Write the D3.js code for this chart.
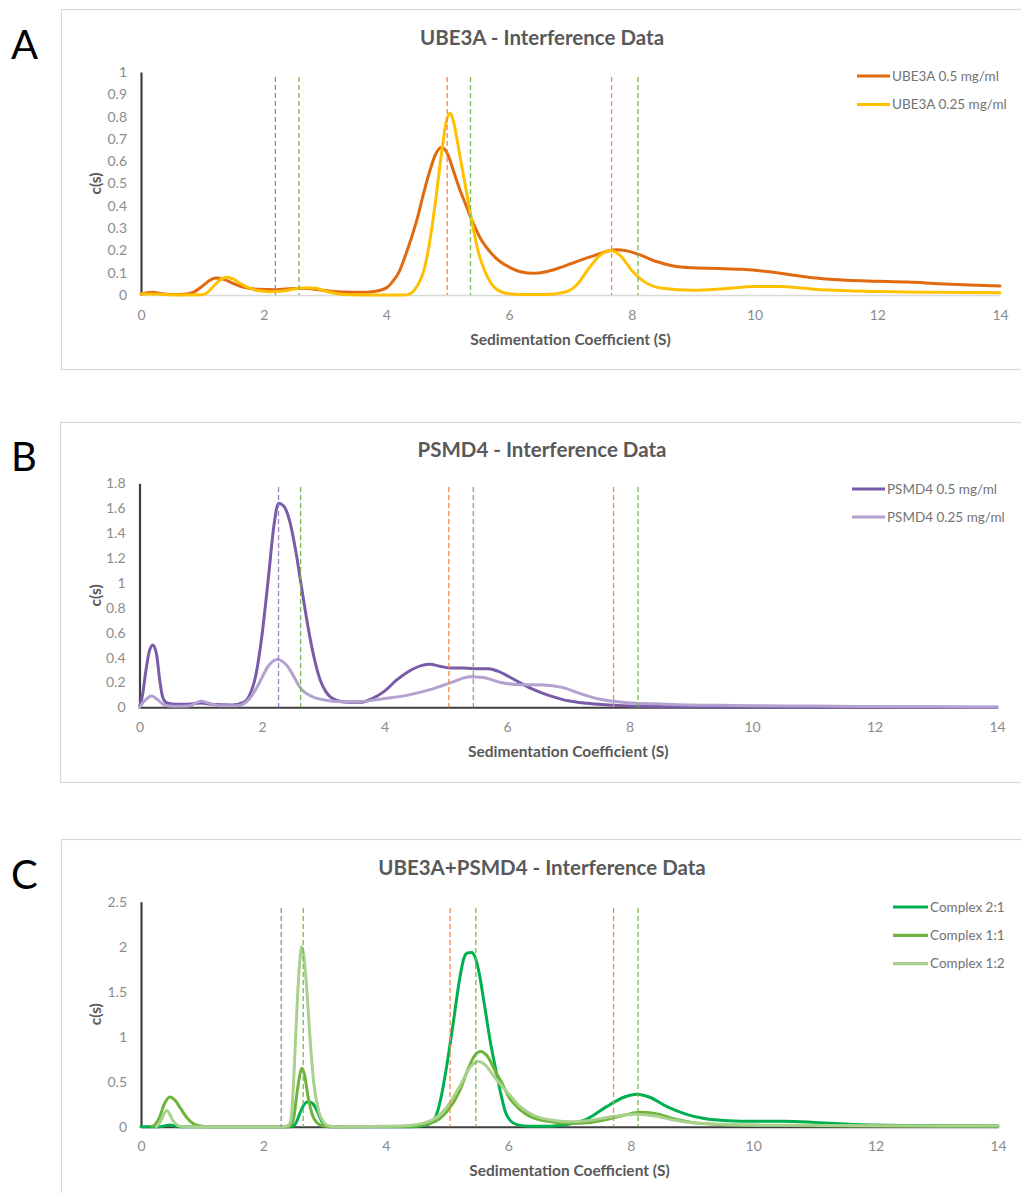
<!DOCTYPE html>
<html>
<head>
<meta charset="utf-8">
<script src="https://cdn.jsdelivr.net/npm/d3@7"></script>
<style>
  html, body { margin: 0; padding: 0; background: #fff; }
  svg { display: block; font-family: Lato, "Open Sans", sans-serif; }
</style>
</head>
<body>
<svg id="fig" width="1021" height="1193"></svg>
<script>
// ---------- data: c(s) distributions, sedimentation coefficient in S ----------
const sTicks = [0, 2, 4, 6, 8, 10, 12, 14];
const yTicksA = [0, 0.1, 0.2, 0.3, 0.4, 0.5, 0.6, 0.7, 0.8, 0.9, 1];
const yTicksB = [0, 0.2, 0.4, 0.6, 0.8, 1, 1.2, 1.4, 1.6, 1.8];
const yTicksC = [0, 0.5, 1, 1.5, 2, 2.5];

const titles = ["UBE3A - Interference Data", "PSMD4 - Interference Data", "UBE3A+PSMD4 - Interference Data"];
const panelLetters = ["A", "B", "C"];
const xAxisTitle = "Sedimentation Coefficient (S)";
const yAxisTitle = "c(s)";

const ube3a05 = [[0,0.005],[0.1,0.01],[0.2,0.012],[0.3,0.008],[0.45,0.002],[0.65,0.002],[0.85,0.012],[1.0,0.04],[1.1,0.062],[1.22,0.076],[1.35,0.07],[1.5,0.052],[1.7,0.033],[1.9,0.026],[2.2,0.024],[2.5,0.029],[2.7,0.029],[3.0,0.02],[3.3,0.013],[3.6,0.012],[3.8,0.016],[4.0,0.032],[4.1,0.06],[4.2,0.1],[4.3,0.17],[4.4,0.25],[4.5,0.34],[4.6,0.45],[4.7,0.55],[4.8,0.63],[4.9,0.662],[5.0,0.63],[5.1,0.55],[5.2,0.47],[5.3,0.4],[5.36,0.357],[5.45,0.3],[5.55,0.245],[5.7,0.19],[5.85,0.15],[6.0,0.125],[6.2,0.103],[6.4,0.097],[6.6,0.104],[6.8,0.12],[7.0,0.14],[7.2,0.16],[7.4,0.178],[7.6,0.196],[7.75,0.203],[7.9,0.199],[8.1,0.183],[8.4,0.15],[8.7,0.129],[9.0,0.122],[9.4,0.119],[9.8,0.115],[10.2,0.105],[10.6,0.09],[11.0,0.076],[11.5,0.066],[12.0,0.062],[12.5,0.058],[13.0,0.051],[13.5,0.045],[14.0,0.04]];
const ube3a025 = [[0,0.005],[0.2,0.005],[0.4,0.002],[0.6,0],[1.0,0.001],[1.1,0.015],[1.2,0.045],[1.3,0.07],[1.4,0.08],[1.5,0.072],[1.6,0.055],[1.75,0.033],[1.9,0.02],[2.1,0.015],[2.3,0.017],[2.5,0.027],[2.7,0.033],[2.85,0.03],[3.0,0.018],[3.2,0.006],[3.4,0.001],[4.3,0],[4.4,0.008],[4.5,0.04],[4.6,0.1],[4.7,0.23],[4.8,0.42],[4.9,0.64],[4.97,0.77],[5.04,0.816],[5.1,0.77],[5.2,0.62],[5.3,0.47],[5.4,0.32],[5.5,0.19],[5.6,0.11],[5.7,0.055],[5.8,0.025],[6.0,0.006],[6.3,0.002],[6.6,0.002],[6.9,0.012],[7.1,0.045],[7.3,0.12],[7.5,0.183],[7.65,0.2],[7.8,0.18],[8.0,0.11],[8.2,0.06],[8.5,0.03],[9.0,0.021],[9.5,0.028],[10.0,0.038],[10.4,0.038],[10.8,0.03],[11.2,0.022],[12,0.016],[13,0.012],[14,0.01]];

const psmd405 = [[0,0],[0.05,0.1],[0.1,0.28],[0.16,0.45],[0.22,0.5],[0.28,0.42],[0.33,0.22],[0.38,0.08],[0.45,0.035],[0.6,0.025],[0.8,0.025],[1.0,0.035],[1.2,0.022],[1.5,0.018],[1.7,0.04],[1.8,0.1],[1.9,0.26],[2.0,0.58],[2.1,1.02],[2.2,1.48],[2.27,1.64],[2.35,1.62],[2.45,1.5],[2.55,1.26],[2.65,0.95],[2.75,0.65],[2.85,0.4],[2.95,0.22],[3.05,0.12],[3.2,0.06],[3.4,0.04],[3.6,0.04],[3.8,0.07],[4.0,0.13],[4.2,0.22],[4.4,0.29],[4.6,0.335],[4.75,0.345],[4.9,0.33],[5.1,0.315],[5.3,0.315],[5.5,0.31],[5.7,0.31],[5.85,0.29],[6.0,0.255],[6.2,0.2],[6.4,0.15],[6.6,0.11],[6.8,0.078],[7.0,0.052],[7.3,0.032],[7.6,0.02],[8.0,0.01],[8.5,0.006],[9.0,0.004],[10,0.002],[14,0.001]];
const psmd4025 = [[0,0],[0.08,0.05],[0.2,0.09],[0.3,0.06],[0.4,0.02],[0.55,0.008],[0.8,0.01],[1.0,0.048],[1.15,0.03],[1.3,0.012],[1.6,0.012],[1.8,0.07],[1.95,0.19],[2.1,0.33],[2.25,0.385],[2.4,0.34],[2.55,0.22],[2.62,0.16],[2.7,0.12],[2.85,0.08],[3.0,0.06],[3.3,0.045],[3.6,0.046],[4.0,0.07],[4.4,0.1],[4.8,0.15],[5.1,0.2],[5.4,0.245],[5.6,0.24],[5.9,0.2],[6.2,0.182],[6.6,0.18],[6.9,0.16],[7.2,0.11],[7.5,0.067],[7.8,0.045],[8.1,0.032],[8.5,0.027],[9,0.019],[9.5,0.016],[10,0.013],[11,0.01],[12,0.006],[13,0.004],[14,0.003]];

const complex21 = [[0,0],[0.3,0],[0.4,0.012],[0.47,0.018],[0.55,0.01],[0.65,0],[2.46,0],[2.53,0.04],[2.59,0.14],[2.65,0.23],[2.73,0.278],[2.8,0.26],[2.86,0.2],[2.9,0.14],[2.96,0.05],[3.02,0.01],[3.1,0],[4.4,0],[4.6,0.01],[4.75,0.05],[4.82,0.12],[4.9,0.32],[5.0,0.7],[5.1,1.15],[5.2,1.62],[5.27,1.86],[5.33,1.93],[5.4,1.935],[5.46,1.88],[5.52,1.72],[5.6,1.4],[5.7,0.97],[5.8,0.62],[5.88,0.36],[5.95,0.17],[6.03,0.07],[6.15,0.02],[6.35,0.005],[6.7,0.006],[7.0,0.03],[7.3,0.09],[7.6,0.22],[7.9,0.33],[8.1,0.36],[8.3,0.33],[8.6,0.22],[8.9,0.14],[9.2,0.09],[9.6,0.066],[10,0.06],[10.5,0.06],[11,0.048],[11.5,0.03],[12,0.018],[13,0.011],[14,0.007]];
const complex11 = [[0.18,0],[0.24,0.03],[0.3,0.1],[0.38,0.25],[0.47,0.33],[0.56,0.29],[0.65,0.2],[0.75,0.1],[0.85,0.035],[0.95,0.01],[1.1,0],[2.4,0],[2.45,0.02],[2.5,0.12],[2.54,0.33],[2.58,0.52],[2.625,0.65],[2.67,0.58],[2.73,0.33],[2.8,0.13],[2.88,0.04],[2.96,0.01],[3.1,0],[4.4,0.005],[4.6,0.02],[4.8,0.055],[5.0,0.17],[5.2,0.39],[5.35,0.65],[5.45,0.79],[5.55,0.835],[5.65,0.79],[5.8,0.6],[5.9,0.48],[6.0,0.34],[6.2,0.185],[6.4,0.1],[6.7,0.055],[7.0,0.037],[7.3,0.045],[7.6,0.08],[7.9,0.13],[8.15,0.16],[8.4,0.148],[8.7,0.09],[9.0,0.048],[9.5,0.022],[10,0.015],[11,0.011],[12,0.008],[14,0.007]];
const complex12 = [[0.25,0],[0.32,0.06],[0.42,0.18],[0.52,0.07],[0.6,0.015],[0.7,0],[2.3,0],[2.4,0.01],[2.45,0.08],[2.5,0.6],[2.55,1.35],[2.59,1.8],[2.625,2.0],[2.66,1.9],[2.7,1.6],[2.76,1.0],[2.82,0.5],[2.9,0.18],[2.98,0.05],[3.06,0.01],[3.2,0],[4.2,0.005],[4.6,0.037],[4.8,0.09],[5.0,0.22],[5.2,0.44],[5.4,0.68],[5.52,0.725],[5.6,0.7],[5.8,0.53],[6.0,0.37],[6.2,0.22],[6.4,0.13],[6.7,0.074],[7.0,0.055],[7.3,0.067],[7.6,0.1],[7.9,0.13],[8.1,0.137],[8.4,0.12],[8.7,0.074],[9.0,0.044],[9.5,0.026],[10,0.018],[11,0.015],[12,0.011],[13,0.008],[14,0.007]];

// reference s-values (monomer / complex peaks) shown as dashed markers
const markerKinds = ["psmd4", "complex", "ube3a", "complex", "ube3a", "complex"];
const markersA = [2.19, 2.575, 4.99, 5.37, 7.67, 8.10];
const markersB = [2.27, 2.63, 5.05, 5.45, 7.74, 8.14];
const markersC = [2.29, 2.65, 5.05, 5.47, 7.72, 8.12];

// ---------- styles ----------
const markerColor = { psmd4: "#9580c8", complex: "#78b84e", ube3a: "#f5894a" };
const font = 'Lato, "Open Sans", sans-serif';
const tickSize = 14;
const axisTitleSize = 15.5;

const panels = [
  {
    letter: panelLetters[0], letterY: 59, title: titles[0], titleY: 44.5,
    frame: { x: 61, y: 9, h: 360 },
    plot: { left: 141, right: 1000, top: 72, bottom: 295 },
    yMax: 1, yTicks: yTicksA, markers: markersA, markerTop: 77,
    baseColor: "#d9d9d9", baseWidth: 1.5,
    series: [
      { name: "UBE3A 0.5 mg/ml", data: ube3a05, color: "#e1690f" },
      { name: "UBE3A 0.25 mg/ml", data: ube3a025, color: "#ffc000" }
    ],
    legend: { x1: 857, x2: 890, y0: 76, dy: 28.5 }
  },
  {
    letter: panelLetters[1], letterY: 471, title: titles[1], titleY: 457,
    frame: { x: 60, y: 422, h: 360 },
    plot: { left: 139.5, right: 997, top: 483.3, bottom: 707.3 },
    yMax: 1.8, yTicks: yTicksB, markers: markersB, markerTop: 487,
    baseColor: "#3f3f3f", baseWidth: 2,
    series: [
      { name: "PSMD4 0.5 mg/ml", data: psmd405, color: "#7a5ba8" },
      { name: "PSMD4 0.25 mg/ml", data: psmd4025, color: "#b3a1d0" }
    ],
    legend: { x1: 852, x2: 885, y0: 489, dy: 28 }
  },
  {
    letter: panelLetters[2], letterY: 889, title: titles[2], titleY: 875,
    frame: { x: 61, y: 839, h: 400 },
    plot: { left: 141, right: 998, top: 901.7, bottom: 1126.7 },
    yMax: 2.5, yTicks: yTicksC, markers: markersC, markerTop: 908,
    baseColor: "#3f3f3f", baseWidth: 2,
    series: [
      { name: "Complex 2:1", data: complex21, color: "#00b050" },
      { name: "Complex 1:1", data: complex11, color: "#6fb43a" },
      { name: "Complex 1:2", data: complex12, color: "#a9d18e" }
    ],
    legend: { x1: 893, x2: 928, y0: 907, dy: 28.3 }
  }
];

const svg = d3.select("#fig");

function drawPanel(p) {
  const g = svg.append("g");

  // chart frame
  g.append("rect")
    .attr("x", p.frame.x + 0.5).attr("y", p.frame.y + 0.5)
    .attr("width", 1100).attr("height", p.frame.h)
    .attr("fill", "#fff").attr("stroke", "#d9d9d9").attr("stroke-width", 1.2);

  // panel letter
  svg.append("text")
    .attr("x", 11).attr("y", p.letterY)
    .attr("font-family", font).attr("font-size", 40).attr("fill", "#000")
    .text(p.letter);

  const x = d3.scaleLinear().domain([0, 14]).range([p.plot.left, p.plot.right]);
  const y = d3.scaleLinear().domain([0, p.yMax]).range([p.plot.bottom, p.plot.top]);

  // title
  g.append("text")
    .attr("x", 542).attr("y", p.titleY).attr("text-anchor", "middle")
    .attr("font-family", font).attr("font-size", 20.5).attr("font-weight", 700)
    .attr("fill", "#595959").text(p.title);

  // x axis (baseline + labels)
  const xAxis = g.append("g")
    .attr("transform", `translate(0,${p.plot.bottom})`)
    .call(d3.axisBottom(x).tickValues(sTicks).tickSize(0).tickSizeOuter(0).tickFormat(d3.format("d")));
  xAxis.select(".domain").attr("stroke", p.baseColor).attr("stroke-width", p.baseWidth);
  xAxis.selectAll("text")
    .attr("y", 24.5).attr("dy", null)
    .attr("font-family", font).attr("font-size", tickSize).attr("fill", "#8c8c8c");

  // y axis (vertical rule + labels)
  const yAxis = g.append("g")
    .attr("transform", `translate(${p.plot.left},0)`)
    .call(d3.axisLeft(y).tickValues(p.yTicks).tickSize(0).tickSizeOuter(0).tickPadding(14)
      .tickFormat(d3.format("~g")));
  yAxis.select(".domain").attr("stroke", "#404040").attr("stroke-width", 2.2);
  yAxis.selectAll("text")
    .attr("font-family", font).attr("font-size", tickSize).attr("fill", "#8c8c8c");

  // axis titles
  g.append("text")
    .attr("x", (p.plot.left + p.plot.right) / 2).attr("y", p.plot.bottom + 49.5)
    .attr("text-anchor", "middle")
    .attr("font-family", font).attr("font-size", axisTitleSize).attr("font-weight", 700)
    .attr("fill", "#595959").text(xAxisTitle);
  g.append("text")
    .attr("transform", `translate(${101},${(p.plot.top + p.plot.bottom) / 2}) rotate(-90)`)
    .attr("text-anchor", "middle")
    .attr("font-family", font).attr("font-size", axisTitleSize).attr("font-weight", 700)
    .attr("fill", "#595959").text(yAxisTitle);

  // distribution curves
  const line = d3.line()
    .x(d => x(d[0])).y(d => y(d[1]))
    .curve(d3.curveMonotoneX);
  g.selectAll("path.series")
    .data(p.series)
    .join("path")
    .attr("class", "series")
    .attr("d", s => line(s.data))
    .attr("fill", "none")
    .attr("stroke", s => s.color)
    .attr("stroke-width", 3)
    .attr("stroke-linejoin", "round")
    .attr("stroke-linecap", "round");

  // dashed reference markers
  g.selectAll("line.marker")
    .data(p.markers.map((s, i) => ({ s, kind: markerKinds[i] })))
    .join("line")
    .attr("class", "marker")
    .attr("x1", d => x(d.s)).attr("x2", d => x(d.s))
    .attr("y1", p.markerTop).attr("y2", p.plot.bottom)
    .attr("stroke", d => markerColor[d.kind])
    .attr("stroke-width", 1.3)
    .attr("stroke-dasharray", "5,3");

  // legend
  const lg = g.selectAll("g.legend")
    .data(p.series)
    .join("g")
    .attr("class", "legend")
    .attr("transform", (s, i) => `translate(0,${p.legend.y0 + i * p.legend.dy})`);
  lg.append("line")
    .attr("x1", p.legend.x1).attr("x2", p.legend.x2)
    .attr("stroke", s => s.color).attr("stroke-width", 3.2);
  lg.append("text")
    .attr("x", p.legend.x2 + 2).attr("dy", "0.36em")
    .attr("font-family", font).attr("font-size", 13.5).attr("fill", "#737373")
    .text(s => s.name);
}

panels.forEach(drawPanel);
</script>
</body>
</html>
